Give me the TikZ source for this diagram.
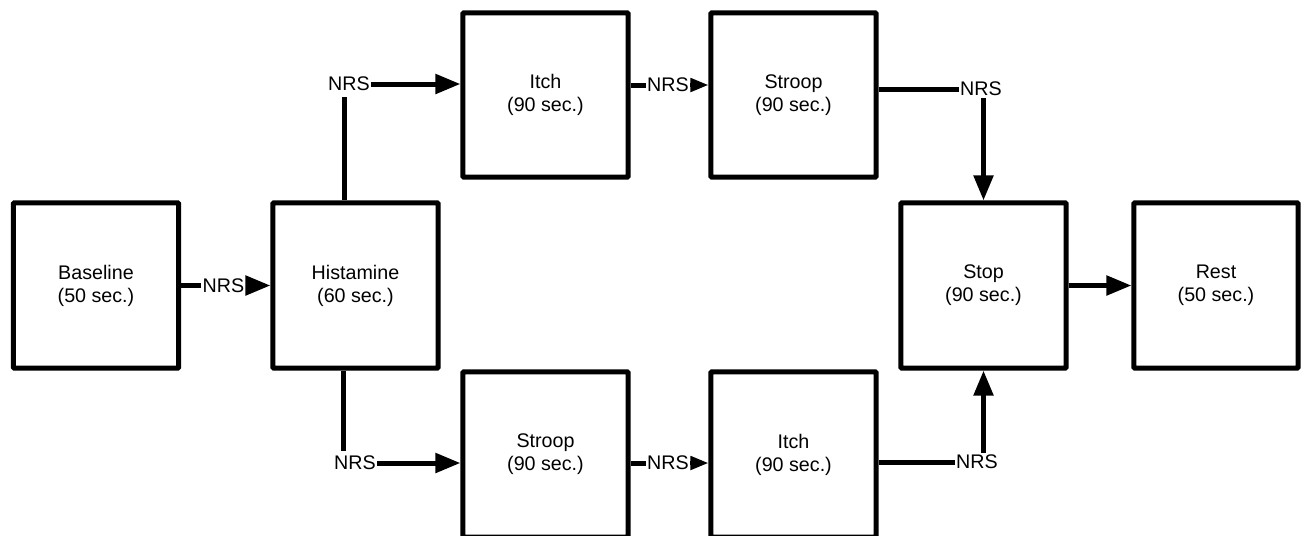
\documentclass[tikz,border=0pt]{standalone}
\usepackage{fontspec}
\setmainfont{Liberation Sans}
\usepackage{tikz}
\usetikzlibrary{arrows.meta}

\begin{document}
\begin{tikzpicture}[x=0.025cm,y=-0.025cm,
                    font=\fontsize{14pt}{16.5pt}\selectfont,
                    stagebox/.style={draw,line width=0.125cm,rounded corners=0.5pt,
                                     minimum width=4.125cm,minimum height=4.125cm,
                                     align=center,inner sep=0pt},
                    nrs/.style={inner sep=1pt},
                    link/.style={line width=0.125cm},
                    arrowlink/.style={line width=0.125cm,-{Triangle[length=0.625cm,width=0.475cm]}},
                    shortlink/.style={line width=0.1cm,-{Triangle[length=0.45cm,width=0.33cm]}}]
                \useasboundingbox (0,0) rectangle (1301,535);
                % stages
                \node[stagebox] (base) at (96,285.5) {Baseline\\(50 sec.)};
                \node[stagebox] (hist) at (355.5,285.5) {Histamine\\(60 sec.)};
                \node[stagebox,minimum height=4.1cm] (itchA) at (545.5,95) {Itch\\(90 sec.)};
                \node[stagebox,minimum height=4.1cm] (stroopA) at (793.5,95) {Stroop\\(90 sec.)};
                \node[stagebox] (stroopB) at (545.5,454.5) {Stroop\\(90 sec.)};
                \node[stagebox] (itchB) at (793.5,454.5) {Itch\\(90 sec.)};
                \node[stagebox] (stop) at (983.5,285.5) {Stop\\(90 sec.)};
                \node[stagebox,minimum width=4.1cm] (rest) at (1216,285.5) {Rest\\(50 sec.)};
                % ratings
                \node[nrs] (n1) at (223.5,285.5) {NRS};
                \node[nrs] (n2) at (349,84) {NRS};
                \node[nrs] (n3) at (668,85) {NRS};
                \node[nrs] (n4) at (981,89) {NRS};
                \node[nrs] (n5) at (355,463) {NRS};
                \node[nrs] (n6) at (668,463) {NRS};
                \node[nrs] (n7) at (977,462) {NRS};
                \coordinate (v2) at (344,97);
                \coordinate (v5) at (343,451);
                % connectors
                \draw[link] (base.east) -- (n1.west);
                \draw[arrowlink] (n1.east) -- (hist.west);
                \draw[link] (hist.north -| v2) -- (v2);
                \draw[arrowlink] (n2.east) -- (itchA.west |- n2);
                \draw[link] (itchA.east |- n3) -- (n3.west);
                \draw[shortlink] (n3.east) -- (stroopA.west |- n3);
                \draw[link] (stroopA.east |- n4) -- (n4.west);
                \draw[arrowlink] (n4.south -| stop) -- (stop.north);
                \draw[link] (hist.south -| v5) -- (v5);
                \draw[arrowlink] (n5.east) -- (stroopB.west |- n5);
                \draw[link] (stroopB.east |- n6) -- (n6.west);
                \draw[shortlink] (n6.east) -- (itchB.west |- n6);
                \draw[link] (itchB.east |- n7) -- (n7.west);
                \draw[arrowlink] (n7.north -| stop) -- (stop.south);
                \draw[arrowlink] (stop.east) -- (rest.west);
            \end{tikzpicture}
\end{document}
